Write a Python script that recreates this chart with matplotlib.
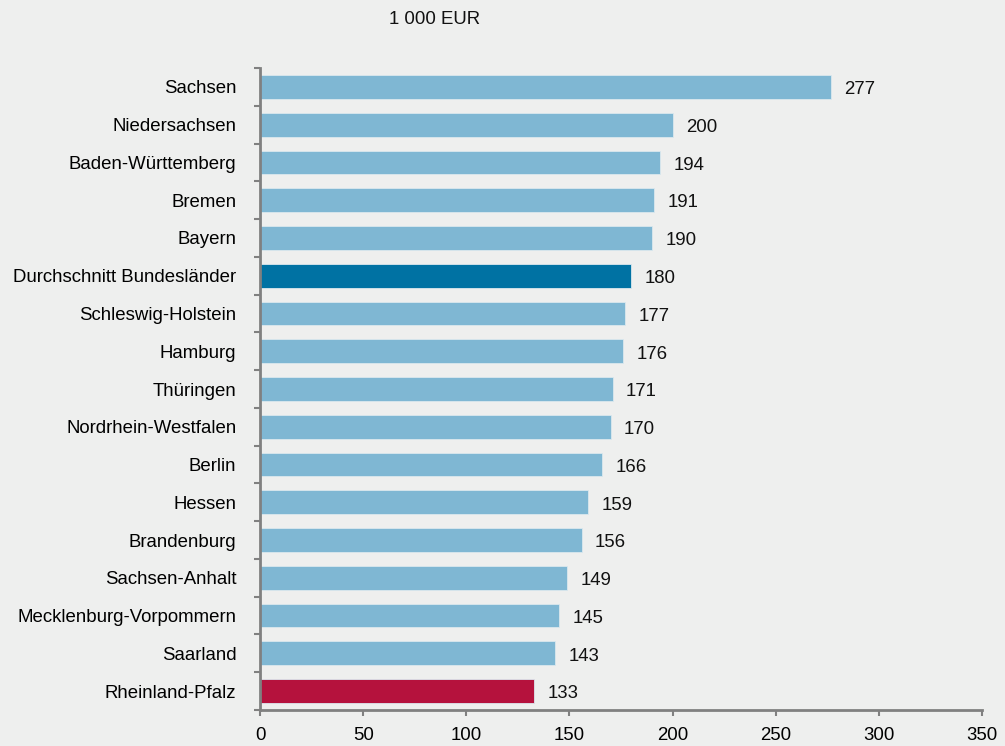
import matplotlib
matplotlib.use("Agg")
import matplotlib.pyplot as plt
import numpy as np

categories = ["Sachsen", "Niedersachsen", "Baden-Württemberg", "Bremen", "Bayern",
              "Durchschnitt Bundesländer", "Schleswig-Holstein", "Hamburg", "Thüringen",
              "Nordrhein-Westfalen", "Berlin", "Hessen", "Brandenburg", "Sachsen-Anhalt",
              "Mecklenburg-Vorpommern", "Saarland", "Rheinland-Pfalz"]
values = [277, 200, 194, 191, 190, 180, 177, 176, 171, 170, 166, 159, 156, 149, 145, 143, 133]
xticks = [0, 50, 100, 150, 200, 250, 300, 350]
unit_label = "1 000 EUR"

plt.rcParams['font.family'] = ['Liberation Sans', 'DejaVu Sans']
bg = "#eeefee"
light = "#7fb7d3"
dark = "#0072a3"
red = "#b5123d"
colors = []
for c in categories:
    if c == "Durchschnitt Bundesländer":
        colors.append(dark)
    elif c == "Rheinland-Pfalz":
        colors.append(red)
    else:
        colors.append(light)

fs = 13.4
fig = plt.figure(figsize=(10.05, 7.46), dpi=100, facecolor=bg)
ax = fig.add_axes([260/1005, 1-710/746, (982-260)/1005, (710-68)/746])
ax.set_facecolor(bg)

y = np.arange(len(categories))
ax.barh(y, values, height=0.63, color=colors, edgecolor="#dbe8ee", linewidth=0.6, zorder=2)
ax.set_ylim(len(categories) - 0.5, -0.5)
ax.set_xlim(0, 350)

for yi, v in zip(y, values):
    ax.annotate(str(v), (v, yi), xytext=(9.5, -2), textcoords="offset points",
                ha="left", va="center", fontsize=fs, color="#111111")

ax.set_yticks(y)
ax.set_yticklabels(categories, fontsize=fs)
ax.set_yticks(np.arange(len(categories) + 1) - 0.5, minor=True)
ax.tick_params(axis="y", which="major", length=0, pad=17)
ax.tick_params(axis="y", which="minor", length=4, width=1.5, color="#808080")
ax.set_xticks(xticks)
ax.set_xticklabels([str(t) for t in xticks], fontsize=fs)
ax.tick_params(axis="x", length=4, width=1.5, color="#808080", pad=8)

for s in ["top", "right"]:
    ax.spines[s].set_visible(False)
for s in ["left", "bottom"]:
    ax.spines[s].set_color("#808080")
    ax.spines[s].set_linewidth(2)

fig.text(435/1005, 1-20/746, unit_label, ha="center", va="center", fontsize=fs, color="#111111")

fig.savefig("out.png", dpi=100, facecolor=bg)
